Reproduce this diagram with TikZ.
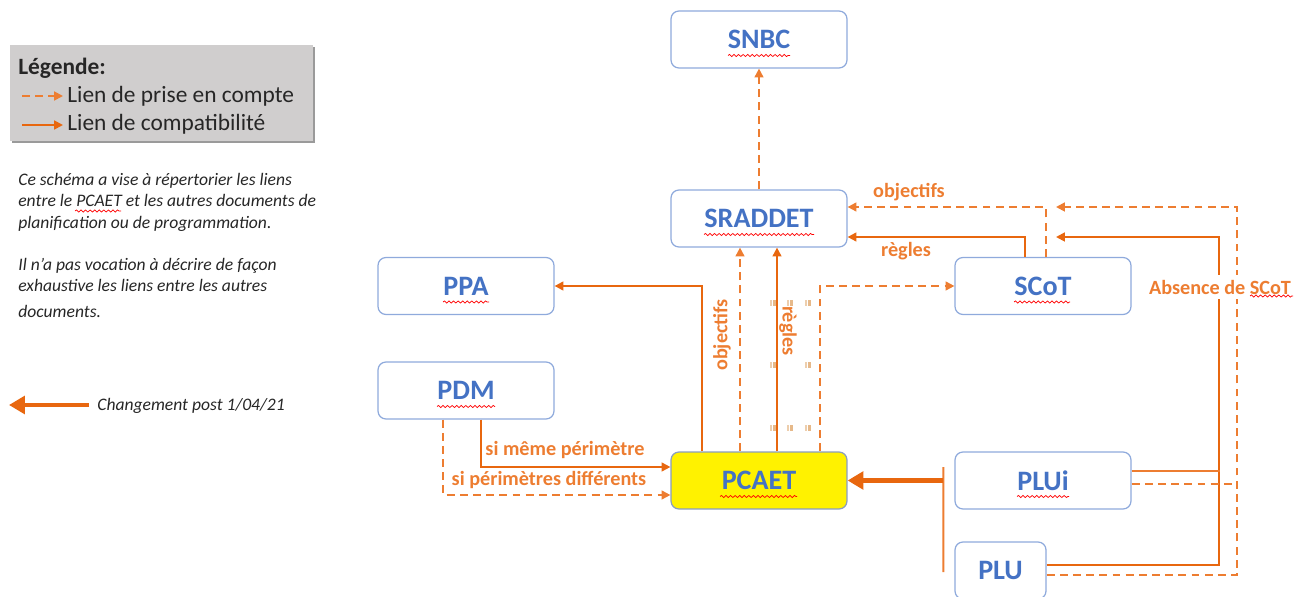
\documentclass[tikz,border=0pt]{standalone}
\usepackage{fontspec}
\setmainfont{Carlito}
\usetikzlibrary{arrows.meta,calc,decorations.pathmorphing}
\definecolor{boxline}{HTML}{8FAADC}
\definecolor{boxtext}{HTML}{4472C4}
\definecolor{lien}{HTML}{ED7D31}
\definecolor{lienfonce}{HTML}{E8670F}
\definecolor{legfond}{HTML}{D0CECE}
\definecolor{legombre}{HTML}{9A9A9A}
\definecolor{poignee}{HTML}{E6B98A}
\begin{document}
\begin{tikzpicture}[x=0.02cm,y=-0.02cm]
\tikzstyle{doc}=[draw=boxline,line width=0.7pt,rounded corners=4.5pt,fill=white,minimum width=3.52cm,minimum height=1.14cm,text=boxtext,font=\fontsize{16}{19}\selectfont\bfseries]
\tikzstyle{prise}=[draw=lien,line width=1.1pt,dash pattern=on 4.5pt off 3pt,-{Triangle[length=5pt,width=5pt]}]
\tikzstyle{compat}=[draw=lienfonce,line width=1.1pt,-{Triangle[length=5pt,width=5pt]}]
\tikzstyle{epais}=[draw=lienfonce,line width=2.4pt,-{Triangle[length=9pt,width=10pt]}]
\tikzstyle{lbl}=[text=lien,font=\fontsize{11.5}{13}\selectfont\bfseries,inner sep=1pt]
\tikzstyle{legtxt}=[font=\fontsize{13.3}{16}\selectfont,inner sep=0pt,text=black!85]
\tikzstyle{note}=[font=\fontsize{10}{12}\selectfont\itshape,inner sep=0pt,text=black!85,anchor=base west]
\tikzstyle{squig}=[draw=red,line width=0.4pt,decorate,decoration={snake,amplitude=0.6pt,segment length=2.6pt}]
\useasboundingbox (0,0) rectangle (1307,597);

% legende
\fill[legombre] (12,47) rectangle (315,143);
\node[fill=legfond,minimum width=6.06cm,minimum height=1.92cm,inner sep=0pt] (legende) at (161.5,93) {};
\node[legtxt,anchor=base west] (legtitre) at (18,75) {\bfseries Légende:};
\node[legtxt,anchor=base west] (legprise) at (67,103) {Lien de prise en compte};
\node[legtxt,anchor=base west] (legcompat) at (67,131) {Lien de compatibilité};
\coordinate (lp1) at (22,96);
\coordinate (lp2) at (63,96);
\coordinate (lc1) at (22,125);
\coordinate (lc2) at (63,125);
\draw[prise] (lp1) -- (lp2);
\draw[compat] (lc1) -- (lc2);

% notes
\node[note] (note1) at (18,186) {Ce schéma a vise à répertorier les liens};
\node[note] (note2) at (18,207) {entre le PCAET et les autres documents de};
\node[note] (note3) at (18,229) {planification ou de programmation.};
\node[note] (note4) at (18,271) {Il n’a pas vocation à décrire de façon};
\node[note] (note5) at (18,292) {exhaustive les liens entre les autres};
\node[note] (note6) at (18,318) {documents.};
\draw[squig] (75,211) -- (121,211);
\coordinate (chg1) at (89,405);
\coordinate (chg2) at (9,405);
\draw[epais] (chg1) -- (chg2);
\node[note] (chgtxt) at (97,410) {Changement post 1/04/21};

% documents
\node[doc] (snbc) at (759,39.5) {SNBC};
\node[doc] (sraddet) at (759,218.5) {SRADDET};
\node[doc] (ppa) at (466,286) {PPA};
\node[doc] (scot) at (1043,286) {SCoT};
\node[doc] (pdm) at (466,390.5) {PDM};
\node[doc,fill=yellow,draw=boxline!70!gray] (pcaet) at (759,480.5) {PCAET};
\node[doc] (plui) at (1043,480.5) {PLUi};
\node[doc,minimum width=1.82cm] (plu) at (1000.5,570.5) {PLU};

% liens
\draw[prise] (sraddet) -- (snbc);
\draw[prise] ($(pcaet.north)+(-19,0)$) -- ($(sraddet.south)+(-19,0)$);
\draw[compat] ($(pcaet.north)+(18,0)$) -- ($(sraddet.south)+(18,0)$);
\draw[compat] ($(pcaet.north)+(-57,0)$) |- (ppa.east);
\draw[prise] ($(pcaet.north)+(61,0)$) |- (scot.west);
\draw[compat] ($(scot.north)+(-18,0)$) |- ($(sraddet.east)+(0,18.5)$);
\draw[prise] ($(scot.north)+(3,0)$) |- ($(sraddet.east)+(0,-11.5)$);
\draw[compat] ($(pdm.south)+(15,0)$) |- ($(pcaet.west)+(0,-13.5)$);
\draw[prise] ($(pdm.south)+(-23,0)$) |- ($(pcaet.west)+(0,14.5)$);

% absence de SCoT
\coordinate (bus) at (1219,237);
\coordinate (busd) at (1237,207);
\coordinate (tipr) at (1056,237);
\coordinate (tipo) at (1056,207);
\draw[compat] ($(plu.east)+(0,-5.5)$) -| (bus) -- (tipr);
\draw[prise] ($(plu.east)+(0,4.5)$) -| (busd) -- (tipo);
\draw[draw=lien,line width=1.1pt] ($(plui.east)+(0,-9.5)$) -- ($(plui.east)+(88,-9.5)$);
\draw[draw=lien,line width=1.1pt,dash pattern=on 4.5pt off 3pt] ($(plui.east)+(0,3.5)$) -- ($(plui.east)+(106,3.5)$);
\node[lbl,fill=white,inner sep=3pt] (absence) at (1220,287) {Absence de SCoT};

% PLU / PLUi vers PCAET
\draw[draw=lien,line width=1.1pt] ($(plui.west)+(-11,-13.5)$) -- ($(plu.west)+(-11,1.5)$);
\draw[epais] ($(plui.west)+(-11,0)$) -- (pcaet.east);

% etiquettes
\node[lbl,rotate=90] (objv) at (722,335) {objectifs};
\node[lbl,rotate=-90] (reglv) at (788,331) {règles};
\node[lbl] (objh) at (909,192) {objectifs};
\node[lbl] (reglh) at (906,251) {règles};
\node[lbl] (meme) at (565,450) {si même périmètre};
\node[lbl] (diff) at (549,480) {si périmètres différents};

% poignees
\foreach \hx/\hy in {773/303,790/303,808/303,773/365,808/365,773/428,790/428,808/428}
  {\fill[poignee!70] (\hx-3,\hy-3) rectangle (\hx-1,\hy+3);
   \fill[poignee] (\hx,\hy-3) rectangle (\hx+3,\hy+3);}

% soulignements
\draw[squig] ($(snbc)+(-31,16)$) -- ($(snbc)+(31,16)$);
\draw[squig] ($(sraddet)+(-55,16)$) -- ($(sraddet)+(55,16)$);
\draw[squig] ($(ppa)+(-23,16)$) -- ($(ppa)+(23,16)$);
\draw[squig] ($(scot)+(-29,16)$) -- ($(scot)+(27,16)$);
\draw[squig] ($(pdm)+(-29,16)$) -- ($(pdm)+(29,16)$);
\draw[squig] ($(pcaet)+(-39,16)$) -- ($(pcaet)+(38,16)$);
\draw[squig] ($(plui)+(-26,16)$) -- ($(plui)+(26,16)$);
\draw[squig] (1250,296) -- (1293,296);
\end{tikzpicture}
\end{document}
